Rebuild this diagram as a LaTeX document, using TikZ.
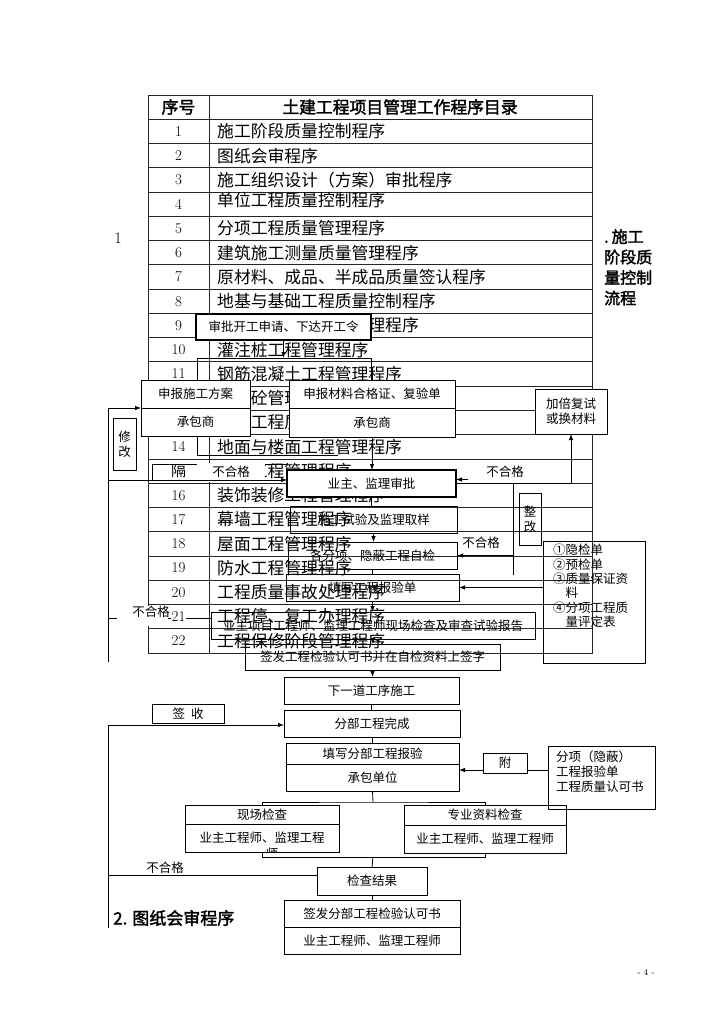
\documentclass[tikz,border=0pt]{standalone}
\usepackage{fontspec}
\newfontfamily\cjk{Noto Sans CJK SC}
\newfontfamily\cjkb{Noto Sans CJK SC}[FakeBold=2]
\usetikzlibrary{arrows.meta,positioning}

\begin{document}
\begin{tikzpicture}[x=1pt, y=-1pt,
    tline/.style={line width=0.8pt, black!85},
    fbox/.style={draw, line width=0.9pt, inner sep=0pt, outer sep=0pt, align=center,
        font=\cjk\fontsize{12.5}{15}\selectfont},
    obox/.style={fbox, fill=white},
    rowtext/.style={anchor=west, inner sep=0pt, font=\cjk\fontsize{16.8}{18}\selectfont},
    rownum/.style={inner sep=1pt, fill=white, font=\fontsize{15}{16}\selectfont},
    lbl/.style={inner sep=1pt, font=\cjk\fontsize{12.5}{14}\selectfont},
    conn/.style={line width=0.8pt},
    arr/.style={conn, -{Latex[length=6pt,width=4.5pt]}}]
\fill[white] (0,0) rectangle (724,1024);
\useasboundingbox (0,0) rectangle (724,1024);

% table of procedures
\draw[tline] (148,95) rectangle (592,653);
\draw[tline] (209,95) -- (209,653);
\foreach \k in {1,...,22}
    \draw[tline] (148,95+24.26*\k) -- (592,95+24.26*\k);

% field check box sits under the table texts
\node[fbox, minimum width=324, minimum height=27, anchor=north west] (sitechk) at (211,612)
    {业主项目工程师、监理工程师现场检查及审查试验报告};
\coordinate (loopT) at (108,408);
\coordinate (loopB) at (108,662);
\draw[conn] (sitechk.west |- 0,618) -- (loopT |- 0,618);
\fill[white] (117,606) rectangle (168,626);

\node[font=\cjkb\fontsize{16.8}{18}\selectfont] (hnum) at (178.5,107) {序号};
\node[font=\cjkb\fontsize{16.8}{18}\selectfont] (htitle) at (400,107) {土建工程项目管理工作程序目录};
\foreach \n/\t/\d [count=\i] in {1/施工阶段质量控制程序/0, 2/图纸会审程序/0,
    3/施工组织设计（方案）审批程序/0, 4/单位工程质量控制程序/-4, 5/分项工程质量管理程序/0,
    6/建筑施工测量质量管理程序/0, 7/原材料、成品、半成品质量签认程序/0,
    8/地基与基础工程质量控制程序/0, 9/土石方及基坑工程管理程序/0, 10/灌注桩工程管理程序/0,
    11/钢筋混凝土工程管理程序/0, 12/商品砼管理程序/0, 13/砌体工程质量管理程序/0,
    14/地面与楼面工程管理程序/0, {\cjk 隔}/门窗工程管理程序/0, 16/装饰装修工程管理程序/0,
    17/幕墙工程管理程序/0, 18/屋面工程管理程序/0, 19/防水工程管理程序/0,
    20/工程质量事故处理程序/0, 21/工程停、复工办理程序/0, 22/工程保修阶段管理程序/0}
{
    \node[rownum] (num\i) at (178.5,{95+24.26*(\i+0.5)}) {\n};
    \node[rowtext] (row\i) at (217,{95+24.26*(\i+0.5)+\d}) {\t};
}
\node[lbl, anchor=east] (fail3) at (171,612) {不合格};

% headings
\node[font=\fontsize{16}{16}\selectfont] (secone) at (118,238) {1};
\node[anchor=north west, align=left, inner sep=0pt,
    font=\cjkb\fontsize{16}{20.5}\selectfont] (sectitle) at (604,229) {.\hspace{3pt}施工\\阶段质\\量控制\\流程};
\node[anchor=west, inner sep=0pt, font=\cjkb\fontsize{17}{18}\selectfont] (sectwo) at (113,918)
    {2.\hspace{5pt}图纸会审程序};
\node[font=\fontsize{9}{10}\selectfont] (pageno) at (646,972) {- 4 -};

% hidden frames
\draw[conn] (371,380) |- (197,358) |- (338,455);
\draw[conn] (152,480) |- (287,464);
\node[lbl, fill=white, minimum width=68, minimum height=19] (fail0) at (231,472) {不合格};

% flow boxes
\node[obox, line width=1.3pt, minimum width=175, minimum height=26, anchor=north west] (approve) at (196,314)
    {审批开工申请、下达开工令};
\node[obox, minimum width=109, minimum height=28, anchor=north west] (planT) at (141,380) {申报施工方案};
\node[obox, minimum width=109, minimum height=28, below=0pt of planT] (planB) {承包商};
\node[obox, minimum width=166, minimum height=28, anchor=north west] (matT) at (289,380) {申报材料合格证、复验单};
\node[obox, minimum width=166, minimum height=29, below=0pt of matT] (matB) {承包商};
\node[obox, minimum width=72, minimum height=45, anchor=north west] (retest) at (535,389) {加倍复试\\或换材料};
\node[fbox, minimum width=23, minimum height=52, anchor=north west] (modify) at (113,418) {修\\改};
\node[obox, line width=1.6pt, minimum width=169, minimum height=27, anchor=north west] (review) at (287,470)
    {业主、监理审批};
\node[fbox, minimum width=167, minimum height=27, anchor=north west] (sample) at (290,506) {施工试验及监理取样};
\node[fbox, minimum width=169, minimum height=27, anchor=north west] (selfchk) at (288,542) {各分项、隐蔽工程自检};
\node[fbox, minimum width=173, minimum height=27, anchor=north west] (report) at (286,574) {填写工程报验单};
\node[fbox, minimum width=255, minimum height=26, anchor=north west] (approveQ) at (245,644)
    {签发工程检验认可书并在自检资料上签字};
\node[fbox, minimum width=22, minimum height=52, anchor=north west] (rectify) at (519,493) {整\\改};
\node[fbox, minimum width=102, minimum height=122, anchor=north west] (docs) at (543,541) {};
\node[lbl, anchor=north west, align=left, inner sep=0pt, font=\cjk\fontsize{12.5}{14.4}\selectfont]
    (docstext) at (553,544) {①隐检单\\②预检单\\③质量保证资\\\hspace*{12.5pt}料\\④分项工程质\\\hspace*{12.5pt}量评定表};
\node[fbox, minimum width=175, minimum height=27, anchor=north west] (nextstep) at (284,677) {下一道工序施工};
\node[fbox, minimum width=176, minimum height=27, anchor=north west] (partdone) at (284,710) {分部工程完成};
\node[fbox, minimum width=72, minimum height=19, anchor=north west] (signbox) at (152,704) {签\hspace{6pt}收};
\node[fbox, minimum width=173, minimum height=21, anchor=north west] (subrepT) at (286,743) {填写分部工程报验};
\node[fbox, minimum width=173, minimum height=27, below=0pt of subrepT] (subrepB) {承包单位};
\node[fbox, minimum width=44, minimum height=20, anchor=north west] (attach) at (483,753) {附};
\node[fbox, minimum width=107, minimum height=63, anchor=north west] (attdocs) at (548,746) {};
\node[lbl, anchor=north west, align=left, inner sep=0pt, font=\cjk\fontsize{12.5}{15}\selectfont]
    (attdocstext) at (556,751) {分项（隐蔽）\\工程报验单\\工程质量认可书};
\node[fbox, minimum width=154, minimum height=19, anchor=north west] (fieldT) at (185,805) {现场检查};
\node[fbox, minimum width=154, minimum height=28, below=0pt of fieldT] (fieldB) {业主工程师、监理工程};
\begin{scope}
    \clip (fieldB.south west) rectangle ([yshift=8pt]fieldB.south east);
    \node[lbl] (fieldrest) at (272,854) {师};
\end{scope}
\node[fbox, minimum width=162, minimum height=20, anchor=north west] (docchkT) at (404,805) {专业资料检查};
\node[fbox, minimum width=162, minimum height=28, below=0pt of docchkT] (docchkB) {业主工程师、监理工程师};
\node[fbox, minimum width=110, minimum height=28, anchor=north west] (result) at (317,867) {检查结果};
\node[fbox, minimum width=176, minimum height=27, anchor=north west] (certT) at (284,900) {签发分部工程检验认可书};
\node[fbox, minimum width=176, minimum height=27, below=0pt of certT] (certB) {业主工程师、监理工程师};

% connectors
\draw[arr] (approve.south) -- (approve.south |- 0,358);
\draw[arr] (matB.south) -- (matB.south |- review.north);
\draw[arr] (review.east) -| (retest.south);
\draw[arr] ([xshift=12pt,yshift=4pt]review.east) -- ([yshift=4pt]review.east);
\coordinate (rtop) at (513,483);
\coordinate (rbot) at (513,575);
\draw[conn] (rtop) -- (rbot);
\draw[arr, line width=1.4pt] (rtop |- selfchk.east) -- (selfchk.east);
\draw[arr] (docs.west |- report.east) -- (report.east);
\draw[conn] (review.south) -- (review.south |- sample.north);
\draw[arr] (sample.south) -- (sample.south |- selfchk.north);
\draw[conn] (selfchk.south) -- (selfchk.south |- report.north);
\draw[arr] (report.south) -- (report.south |- sitechk.north);
\draw[arr] (sitechk.south) -- (sitechk.south |- approveQ.north);
\draw[arr] (approveQ.south) -- (approveQ.south |- nextstep.north);
\draw[conn] (nextstep.south) -- (nextstep.south |- partdone.north);
\draw[conn] (partdone.south) -- (partdone.south |- subrepT.north);
\coordinate (split) at (373,802);
\draw[conn] (subrepB.south) -- (split);
\draw[conn] (fieldT.north) |- (split) -| (docchkT.north);
\coordinate (join) at (373,857);
\draw[conn] (fieldB.south) |- (join) -| (docchkB.south);
\draw[conn] (join) -- (result.north);
\draw[conn] (result.south) -- (result.south |- certT.north);
\draw[conn] (attdocs.west |- 0,770) -- (attach.east |- 0,770);
\draw[arr] (attach.west |- 0,770) -- (subrepB.east |- 0,770);

% feedback loops
\draw[conn] (loopB) -- (loopT);
\draw[arr] (loopT) -- (planT.south west);
\draw[arr] (loopT |- 0,480) -- (review.west |- 0,480);
\coordinate (loopU) at (108,725);
\coordinate (loopD) at (108,928);
\draw[conn] (loopD) -- (loopU);
\draw[arr] (loopU) -- (loopU -| partdone.west);
\draw[conn] ([yshift=6pt]result.west) -- ([yshift=6pt]result.west -| loopU);

\node[lbl] (fail1) at (505,472) {不合格};
\node[lbl] (fail2) at (481,543) {不合格};
\node[lbl] (fail4) at (165,868) {不合格};
\end{tikzpicture}
\end{document}
